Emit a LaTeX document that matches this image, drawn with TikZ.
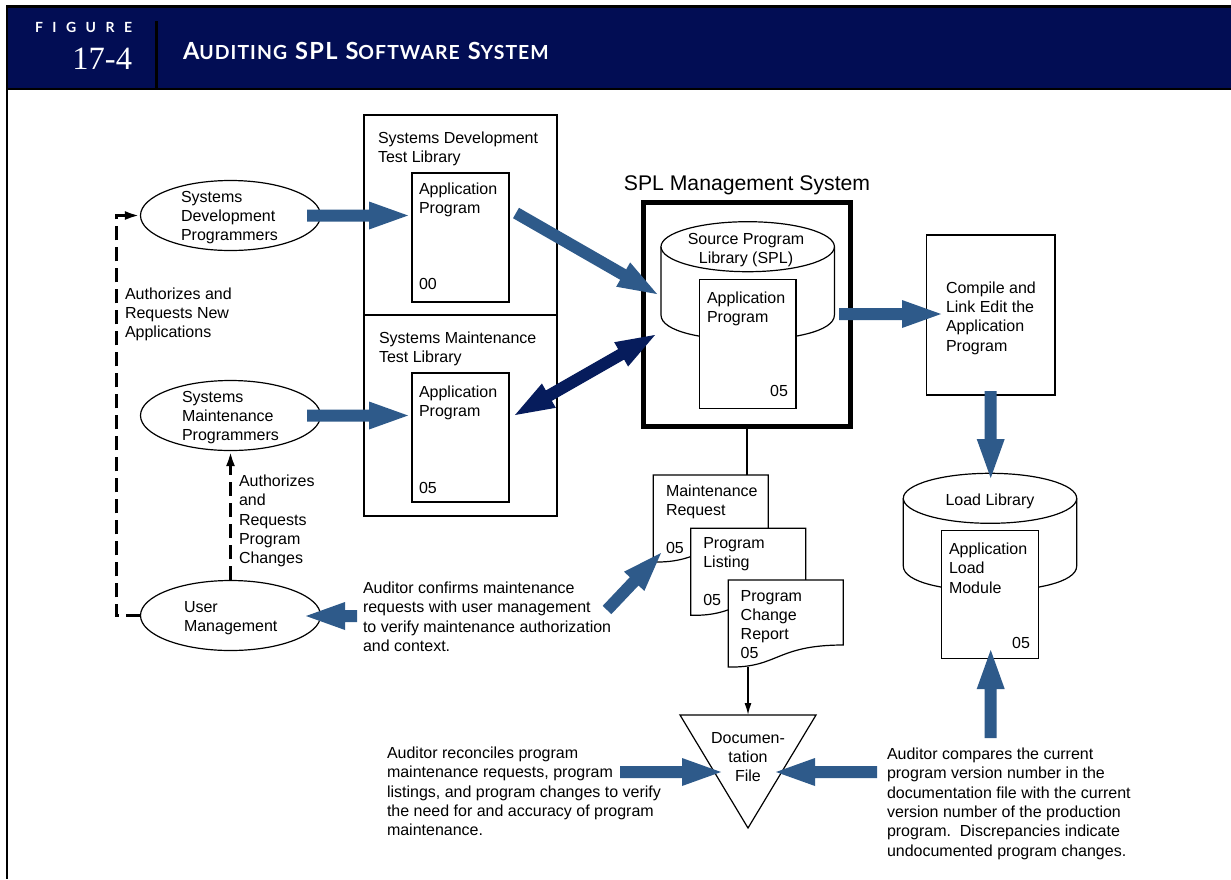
\documentclass[tikz,border=0pt]{standalone}
\usepackage{fontspec}
\setmainfont{Liberation Sans}
\newfontfamily\numfont{Liberation Serif}
\newfontfamily\hdfont{Lato}
\newfontfamily\hdfontls{Lato}[LetterSpace=5.5]
\usetikzlibrary{arrows.meta,shapes.geometric,calc}
\definecolor{hdnavy}{RGB}{2,13,84}
\definecolor{blockblue}{RGB}{46,90,138}
\definecolor{blocknavy}{RGB}{6,28,92}
\newcommand\hsc[2]{{\fontsize{23.6}{25}\selectfont #1}{\fontsize{19.4}{21}\selectfont #2}}
% single-headed block arrow: #1 colour, #2 tail, #3 tip
\newcommand\blockarr[3][blockblue]{%
  \coordinate (bh) at ($(#3)!39pt!(#2)$);
  \fill[#1] ($(#2)!6pt!90:(#3)$) -- ($(bh)!6pt!90:(#3)$) -- ($(bh)!14pt!90:(#3)$) -- (#3)
    -- ($(bh)!14pt!-90:(#3)$) -- ($(bh)!6pt!-90:(#3)$) -- ($(#2)!6pt!-90:(#3)$) -- cycle;}
% double-headed block arrow
\newcommand\dblarr[3][blocknavy]{%
  \coordinate (bha) at ($(#2)!39pt!(#3)$);
  \coordinate (bhb) at ($(#3)!39pt!(#2)$);
  \fill[#1] (#2) -- ($(bha)!14pt!90:(#3)$) -- ($(bha)!6pt!90:(#3)$) -- ($(bhb)!6pt!90:(#3)$)
    -- ($(bhb)!14pt!90:(#3)$) -- (#3) -- ($(bhb)!14pt!-90:(#3)$) -- ($(bhb)!6pt!-90:(#3)$)
    -- ($(bha)!6pt!-90:(#3)$) -- ($(bha)!14pt!-90:(#3)$) -- cycle;}
\tikzset{
  txt/.style={inner sep=0pt, outer sep=0pt, align=left, anchor=north west, font=\fontsize{16}{19.3}\selectfont},
  ctxt/.style={txt, align=center, anchor=north},
  rtxt/.style={txt, anchor=north east},
  boxnode/.style={draw, line width=1.2pt, fill=white, inner sep=0pt, outer sep=0pt, anchor=north west},
  ellnode/.style={draw, ellipse, line width=1.2pt, fill=white, inner sep=0pt, minimum width=180pt, minimum height=70pt},
  ghost/.style={inner sep=0pt, outer sep=0pt, anchor=north west},
  dashline/.style={line width=3pt, dash pattern=on 14pt off 7pt, -{Latex[length=15pt,width=9pt]}},
  solidline/.style={line width=1.5pt},
  hdtxt/.style={inner sep=0pt, outer sep=0pt, text=white},
  docline/.style={line width=1.2pt, fill=white}
}
\begin{document}
\begin{tikzpicture}[x=1pt,y=-1pt]
\useasboundingbox (0,0) rectangle (1231,879);
\fill[white] (0,0) rectangle (1231,879);
% header
\fill[black] (6,5) rectangle (1231,90);
\fill[hdnavy] (8,7.5) rectangle (1231,88);
\fill[black] (155,21) rectangle (158,88);
\draw[line width=2pt] (7,89) -- (7,879);
\node[hdtxt, anchor=base west] (figlbl) at (35,32) {\hdfont\bfseries\fontsize{14}{14}\selectfont F\kern9.5pt I\kern9.5pt G\kern9.5pt U\kern9.5pt R\kern9.5pt E};
\node[hdtxt, anchor=base east] (fignum) at (132,69) {\numfont\fontsize{32.5}{34}\selectfont 17-4};
\node[hdtxt, anchor=base west] (figtitle) at (183,59) {\hdfontls\bfseries\fontsize{23.6}{25}\selectfont\hsc{A}{UDITING}\hspace{8pt}\hsc{SPL}{}\hspace{8pt}\hsc{S}{OFTWARE}\hspace{8pt}\hsc{S}{YSTEM}};

% ellipses
\node[ellnode] (devprog) at (230.5,215.5) {};
\node[ellnode] (maintprog) at (230.5,415.5) {};
\node[ellnode] (userm) at (230.5,615.5) {};
\node[txt] (devprogt) at (181,191) {Systems\\Development\\Programmers};
\node[txt] (maintprogt) at (182,391) {Systems\\Maintenance\\Programmers};
\node[txt] (usermt) at (184,601) {User\\Management};

% dashed authorisation lines
\coordinate (dl) at (116,415);
\draw[dashline] (userm.west) -| (dl) |- (devprog.west);
\draw[dashline] (userm.north) -- (maintprog.south);
\node[txt] (authnew) at (125,287.5) {Authorizes and\\Requests New\\Applications};
\node[txt] (authchg) at (239,475) {Authorizes\\and\\Requests\\Program\\Changes};

% test libraries
\node[boxnode, minimum width=193pt, minimum height=200pt] (devlib) at (364,115) {};
\node[boxnode, minimum width=193pt, minimum height=201pt] (maintlib) at (364,315) {};
\node[txt] (devlibt) at (378,132) {Systems Development\\Test Library};
\node[txt] (maintlibt) at (379,332) {Systems Maintenance\\Test Library};
\node[boxnode, minimum width=97pt, minimum height=129pt] (devapp) at (412,173) {};
\node[boxnode, minimum width=97pt, minimum height=129pt] (maintapp) at (412,373) {};
\node[txt] (devappt) at (419,183) {Application\\Program};
\node[txt] (devappn) at (419,278) {00};
\node[txt] (maintappt) at (419,386) {Application\\Program};
\node[txt] (maintappn) at (419,482) {05};

% SPL management system
\node[txt, font=\fontsize{21.2}{24}\selectfont, anchor=base] (spltitle) at (747,190.6) {SPL Management System};
\node[draw, line width=5pt, inner sep=0pt, minimum width=207pt, minimum height=224pt] (splbox) at (747,314.5) {};
\filldraw[line width=1.2pt, fill=white] (661,246.7) -- (661,315) .. controls (661,348.3) and (834.4,348.3) .. (834.4,315) -- (834.4,246.7);
\filldraw[line width=1.2pt, fill=white] (747.7,246.7) ellipse [x radius=86.7, y radius=25];
\node[ctxt] (splt) at (746,233) {Source Program\\Library (SPL)};
\node[boxnode, minimum width=96.7pt, minimum height=129pt] (splapp) at (699.3,279.3) {};
\node[txt] (splappt) at (707,291.7) {Application\\Program};
\node[rtxt] (splappn) at (788,385.7) {05};

% compile box
\node[boxnode, minimum width=128.3pt, minimum height=160pt] (compile) at (926.7,235) {};
\node[txt] (compilet) at (946,281.7) {Compile and\\Link Edit the\\Application\\Program};

% load library
\filldraw[line width=1.2pt, fill=white] (903.3,498.3) -- (903.3,566) .. controls (903.3,599.3) and (1076.7,599.3) .. (1076.7,566) -- (1076.7,498.3);
\filldraw[line width=1.2pt, fill=white] (990,498.3) ellipse [x radius=86.7, y radius=25];
\node[ctxt] (loadt) at (990,494) {Load Library};
\node[boxnode, minimum width=96.6pt, minimum height=127.6pt] (loadmod) at (941.7,530.7) {};
\node[txt] (loadmodt) at (949,543) {Application\\Load\\Module};
\node[rtxt] (loadmodn) at (1030,637.3) {05};

% documents
\node[ghost, minimum width=115pt, minimum height=87pt] (mreq) at (653.3,475) {};
\node[ghost, minimum width=115pt, minimum height=87pt] (plist) at (690.7,528.3) {};
\node[ghost, minimum width=115pt, minimum height=87pt] (pcr) at (728.3,580) {};
\begin{scope}[shift={(653.3,475)}]
  \filldraw[docline] (0,0) -- (115,0) -- (115,65) .. controls (47,65) and (50,88) .. (0,87) -- cycle;
\end{scope}
\node[txt] (mreqt) at (666,484.7) {Maintenance\\Request};
\node[txt] (mreqn) at (666,542.3) {05};
\begin{scope}[shift={(690.7,528.3)}]
  \filldraw[docline] (0,0) -- (115,0) -- (115,65) .. controls (47,65) and (50,88) .. (0,87) -- cycle;
\end{scope}
\node[txt] (plistt) at (703.3,537.3) {Program\\Listing};
\node[txt] (plistn) at (703.3,594.7) {05};
\begin{scope}[shift={(728.3,580)}]
  \filldraw[docline] (0,0) -- (115,0) -- (115,65) .. controls (47,65) and (50,88) .. (0,87) -- cycle;
\end{scope}
\node[txt] (pcrt) at (740.7,590) {Program\\Change\\Report\\05};

\draw[solidline] (splbox.south) -- (splbox.south |- mreq.north);

% documentation file
\node[ghost, anchor=north, minimum width=136pt, minimum height=113pt] (docfile) at (748,715) {};
\draw[line width=1.2pt] (docfile.north west) -- (docfile.north east) -- (docfile.south) -- cycle;
\node[ctxt] (docfilet) at (748,732) {Documen-\\tation\\File};
\draw[solidline, -{Latex[length=12pt,width=7pt]}] (pcr.south -| docfile.north) -- (docfile.north);

% auditor notes
\node[txt] (audconf) at (363,582) {Auditor confirms maintenance\\requests with user management\\to verify maintenance authorization\\and context.};
\node[txt] (audrec) at (387,747) {Auditor reconciles program\\maintenance requests, program\\listings, and program changes to verify\\the need for and accuracy of program\\maintenance.};
\node[txt] (audcmp) at (887,748) {Auditor compares the current\\program version number in the\\documentation file with the current\\version number of the production\\program.\ \ Discrepancies indicate\\undocumented program changes.};

% block arrow end points
\coordinate (a1t) at (307,215.5);  \coordinate (a1h) at ([xshift=-4pt]devapp.west |- a1t);
\coordinate (a2t) at (307,415.5);  \coordinate (a2h) at ([xshift=-4pt]maintapp.west |- a2t);
\coordinate (a3t) at (516,213);    \coordinate (a3h) at (657,294);
\coordinate (a4t) at (515,415);    \coordinate (a4h) at (655,335);
\coordinate (a5t) at (839,314);    \coordinate (a5h) at (941,314);
\coordinate (a6t) at (990.7,391);  \coordinate (a6h) at (990.7,478);
\coordinate (a7t) at (990.7,738);  \coordinate (a7h) at (990.7,650);
\coordinate (a8t) at (357,616);    \coordinate (a8h) at (306,616);
\coordinate (a9t) at (607,610);    \coordinate (a9h) at (661,553);
\coordinate (a10t) at (620,772);   \coordinate (a10h) at (721,772);
\coordinate (a11t) at (877,772);   \coordinate (a11h) at (776,772);
\blockarr{a1t}{a1h}
\blockarr{a2t}{a2h}
\blockarr{a3t}{a3h}
\dblarr{a4t}{a4h}
\blockarr{a5t}{a5h}
\blockarr{a6t}{a6h}
\blockarr{a7t}{a7h}
\blockarr{a8t}{a8h}
\blockarr{a9t}{a9h}
\blockarr{a10t}{a10h}
\blockarr{a11t}{a11h}
\end{tikzpicture}
\end{document}
